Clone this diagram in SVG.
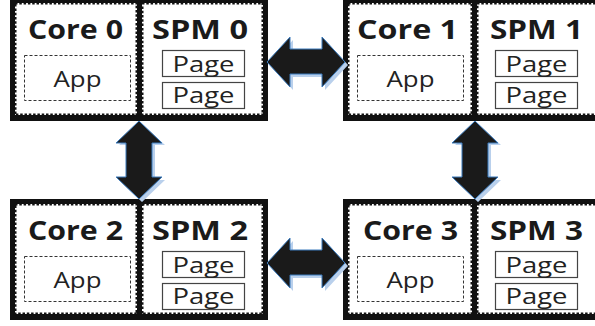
<svg xmlns="http://www.w3.org/2000/svg" width="595" height="326" viewBox="0 0 595 326">
  <style>
    .frame { fill: #111; }
    .panel { fill: #fff; stroke: #111; stroke-width: 3; stroke-dasharray: 2.5 1.8; }
    .title { font-family: "Open Sans", "Liberation Sans", sans-serif; font-weight: bold; font-size: 27px; fill: #1a1a1a; text-anchor: middle; }
    .label { font-family: "Open Sans", "Liberation Sans", sans-serif; font-size: 22px; fill: #222; text-anchor: middle; }
    .app { fill: #fff; stroke: #333; stroke-width: 1; stroke-dasharray: 3 2; }
    .page { fill: #fff; stroke: #444; stroke-width: 1.2; }
    .arrow { fill: #1a1a1a; stroke: #3b7bbd; stroke-width: 1; stroke-linejoin: miter; }
    .shadow { fill: #b9d0ec; }
  </style>
  <defs>
    <!-- contents of one tile: the app slot and two scratchpad pages -->
    <g id="slots">
      <rect class="app" x="14.5" y="57.5" width="106" height="45"/>
      <text class="label" x="67.5" y="89" textLength="48" lengthAdjust="spacingAndGlyphs">App</text>
      <rect class="page" x="152.5" y="52.5" width="82" height="26"/>
      <text class="label" x="193.5" y="74" textLength="62" lengthAdjust="spacingAndGlyphs">Page</text>
      <rect class="page" x="152.5" y="84.5" width="82" height="26"/>
      <text class="label" x="193.5" y="105" textLength="62" lengthAdjust="spacingAndGlyphs">Page</text>
    </g>
  </defs>

  <g id="node-0">
    <rect class="frame" x="10" y="-3" width="258" height="124"/>
    <rect class="panel" x="15" y="3" width="122" height="112"/>
    <rect class="panel" x="142" y="3" width="121" height="112"/>
    <use href="#slots" transform="translate(10,-2)"/>
    <text class="title" x="75.5" y="39" textLength="95" lengthAdjust="spacingAndGlyphs">Core 0</text>
    <text class="title" x="200" y="39" textLength="96" lengthAdjust="spacingAndGlyphs">SPM 0</text>
  </g>
  <g id="node-1">
    <rect class="frame" x="343" y="-3" width="262" height="124"/>
    <rect class="panel" x="348" y="3" width="124" height="112"/>
    <rect class="panel" x="477" y="3" width="125" height="112"/>
    <use href="#slots" transform="translate(343,-2)"/>
    <text class="title" x="407.5" y="39" textLength="101" lengthAdjust="spacingAndGlyphs">Core 1</text>
    <text class="title" x="536.5" y="39" textLength="93" lengthAdjust="spacingAndGlyphs">SPM 1</text>
  </g>
  <g id="node-2">
    <rect class="frame" x="10" y="199" width="258" height="121"/>
    <rect class="panel" x="15" y="204" width="122" height="110"/>
    <rect class="panel" x="142" y="204" width="121" height="110"/>
    <use href="#slots" transform="translate(10,199)"/>
    <text class="title" x="75.5" y="240" textLength="95" lengthAdjust="spacingAndGlyphs">Core 2</text>
    <text class="title" x="200" y="240" textLength="96" lengthAdjust="spacingAndGlyphs">SPM 2</text>
  </g>
  <g id="node-3">
    <rect class="frame" x="343" y="199" width="262" height="121"/>
    <rect class="panel" x="348" y="204" width="124" height="110"/>
    <rect class="panel" x="477" y="204" width="125" height="110"/>
    <use href="#slots" transform="translate(343,199)"/>
    <text class="title" x="410.5" y="240" textLength="95" lengthAdjust="spacingAndGlyphs">Core 3</text>
    <text class="title" x="536.5" y="240" textLength="93" lengthAdjust="spacingAndGlyphs">SPM 3</text>
  </g>

  <g id="connectors">
    <!-- horizontal double arrows -->
    <path class="shadow" d="M270,65 L293,40 L293,53 L325,53 L325,40 L348,65 L325,90 L325,77 L293,77 L293,90 Z"/>
    <path class="arrow" d="M267,62 L290,37 L290,49 L322,49 L322,37 L345,62 L322,87 L322,74 L290,74 L290,87 Z"/>
    <path class="shadow" d="M270,266 L293,241 L293,253 L325,253 L325,241 L348,266 L325,291 L325,278 L293,278 L293,291 Z"/>
    <path class="arrow" d="M267,263 L290,238 L290,250 L322,250 L322,238 L345,263 L322,288 L322,275 L290,275 L290,288 Z"/>
    <!-- vertical double arrows -->
    <path class="shadow" d="M142,124 L165,145 L155,145 L155,180 L165,180 L142,202 L119,180 L129,180 L129,145 L119,145 Z"/>
    <path class="arrow" d="M139,121 L162,143 L152,143 L152,177 L162,177 L139,199 L116,177 L126,177 L126,143 L116,143 Z"/>
    <path class="shadow" d="M478,124 L501,145 L491,145 L491,180 L501,180 L478,202 L455,180 L465,180 L465,145 L455,145 Z"/>
    <path class="arrow" d="M475,121 L498,143 L488,143 L488,177 L498,177 L475,199 L452,177 L462,177 L462,143 L452,143 Z"/>
  </g>
</svg>
